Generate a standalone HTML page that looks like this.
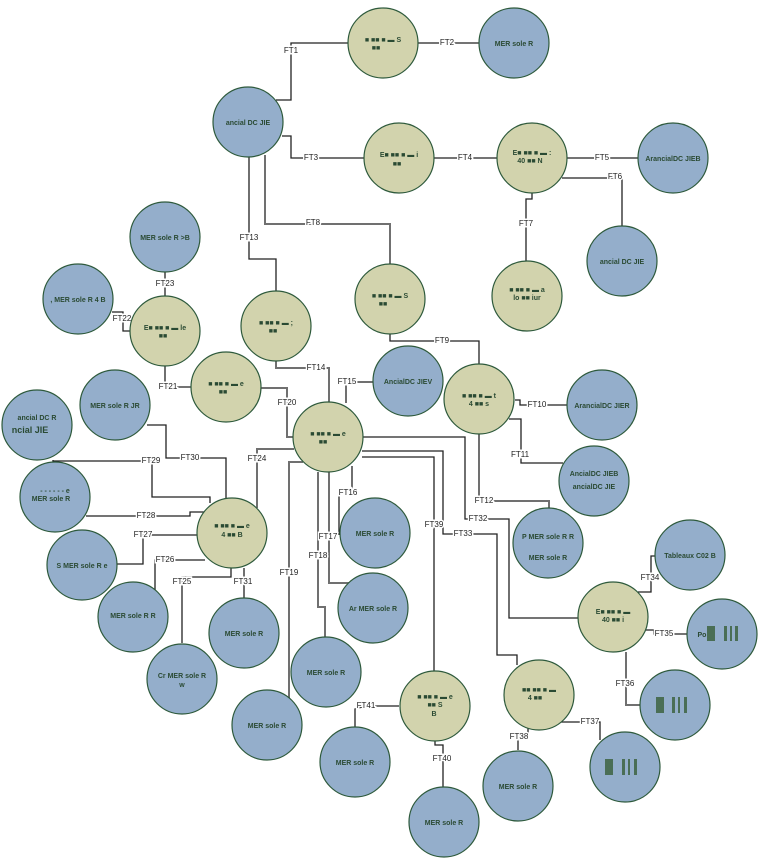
<!DOCTYPE html>
<html><head><meta charset="utf-8"><style>
html,body{margin:0;padding:0;background:#fff;}
svg{display:block;font-family:"Liberation Sans",sans-serif;}
.b{fill:#94aecb;stroke:#2e5a3c;stroke-width:1.2}
.k{fill:#d2d3ad;stroke:#2e5a3c;stroke-width:1.2}
.l{fill:none;stroke:#222;stroke-width:1.3}
.g{fill:none;stroke:#707070;stroke-width:2}
.lb{font-size:8px;fill:#222;text-anchor:middle;dominant-baseline:middle;}
.lbb{fill:#fff;}
.t{font-size:7px;fill:#2a4a33;text-anchor:middle;font-weight:bold;}
</style></head><body>
<svg width="759" height="860" viewBox="0 0 759 860">
<!-- connectors -->
<g>
<polyline class="l" points="276,100 291,100 291,43 348,43"/>
<polyline class="l" points="418,43 479,43"/>
<polyline class="l" points="282,136 291,136 291,158 364,158"/>
<polyline class="l" points="434,158 497,158"/>
<polyline class="l" points="567,158 638,158"/>
<polyline class="l" points="562,178 622,178 622,226"/>
<polyline class="l" points="532,193 532,199 526,199 526,261"/>
<polyline class="g" points="265,155 265,224 390,224 390,264"/>
<polyline class="l" points="249,157 249,259 276,259 276,291"/>
<polyline class="l" points="390,334 390,341 479,341 479,366"/>
<polyline class="l" points="165,272 165,296"/>
<polyline class="l" points="112,312 123,312 123,331 131,331"/>
<polyline class="l" points="165,366 165,387 191,387"/>
<polyline class="g" points="276,361 276,368 329,368 329,402"/>
<polyline class="g" points="346,403 346,382 373,382"/>
<polyline class="g" points="261,388 287,388 287,437 294,437"/>
<polyline class="l" points="515,400 520,400 520,405 567,405"/>
<polyline class="l" points="509,419 521,419 521,463 563,463"/>
<polyline class="g" points="479,434 479,501 549,501 549,509"/>
<polyline class="l" points="53,460 53,461 152,461 152,497 210,497 210,503"/>
<polyline class="l" points="147,425 166,425 166,458 226,458 226,500"/>
<polyline class="g" points="294,449 257,449 257,508"/>
<polyline class="l" points="86,516 190,516 190,512 205,512"/>
<polyline class="l" points="117,564 143,564 143,535 197,535"/>
<polyline class="l" points="155,593 155,560 205,560"/>
<polyline class="l" points="182,643 182,577 231,577 231,568"/>
<polyline class="l" points="244,568 244,598"/>
<polyline class="g" points="303,462 289,462 289,698"/>
<polyline class="g" points="318,472 318,607 325,607 325,637"/>
<polyline class="g" points="329,472 329,583 349,583"/>
<polyline class="l" points="352,466 352,493 339,493 339,535"/>
<polyline class="l" points="362,457 434,457 434,671"/>
<polyline class="l" points="362,451 443,451 443,534 497,534 497,655 517,655 517,665"/>
<polyline class="l" points="363,437 465,437 465,519 509,519 509,618 579,618"/>
<polyline class="l" points="638,592 651,592 651,556 656,556"/>
<polyline class="l" points="645,630 654,630 654,634 687,634"/>
<polyline class="g" points="626,652 626,705 640,705"/>
<polyline class="l" points="561,722 600,722 600,740"/>
<polyline class="l" points="528,726 528,735 518,735 518,750"/>
<polyline class="l" points="399,706 366,706 355,709 355,727"/>
<polyline class="l" points="435,740 435,745 443,745 443,787"/>
</g>
<!-- labels -->
<g>
<text class="lb" x="291" y="51" style="paint-order:stroke;stroke:#fff;stroke-width:3">FT1</text>
<text class="lb" x="447" y="43" style="paint-order:stroke;stroke:#fff;stroke-width:3">FT2</text>
<text class="lb" x="311" y="158" style="paint-order:stroke;stroke:#fff;stroke-width:3">FT3</text>
<text class="lb" x="465" y="158" style="paint-order:stroke;stroke:#fff;stroke-width:3">FT4</text>
<text class="lb" x="602" y="158" style="paint-order:stroke;stroke:#fff;stroke-width:3">FT5</text>
<text class="lb" x="615" y="177" style="paint-order:stroke;stroke:#fff;stroke-width:3">FT6</text>
<text class="lb" x="526" y="224" style="paint-order:stroke;stroke:#fff;stroke-width:3">FT7</text>
<text class="lb" x="313" y="223" style="paint-order:stroke;stroke:#fff;stroke-width:3">FT8</text>
<text class="lb" x="249" y="238" style="paint-order:stroke;stroke:#fff;stroke-width:3">FT13</text>
<text class="lb" x="442" y="341" style="paint-order:stroke;stroke:#fff;stroke-width:3">FT9</text>
<text class="lb" x="165" y="284" style="paint-order:stroke;stroke:#fff;stroke-width:3">FT23</text>
<text class="lb" x="122" y="319" style="paint-order:stroke;stroke:#fff;stroke-width:3">FT22</text>
<text class="lb" x="168" y="387" style="paint-order:stroke;stroke:#fff;stroke-width:3">FT21</text>
<text class="lb" x="316" y="368" style="paint-order:stroke;stroke:#fff;stroke-width:3">FT14</text>
<text class="lb" x="347" y="382" style="paint-order:stroke;stroke:#fff;stroke-width:3">FT15</text>
<text class="lb" x="287" y="403" style="paint-order:stroke;stroke:#fff;stroke-width:3">FT20</text>
<text class="lb" x="537" y="405" style="paint-order:stroke;stroke:#fff;stroke-width:3">FT10</text>
<text class="lb" x="520" y="455" style="paint-order:stroke;stroke:#fff;stroke-width:3">FT11</text>
<text class="lb" x="484" y="501" style="paint-order:stroke;stroke:#fff;stroke-width:3">FT12</text>
<text class="lb" x="151" y="461" style="paint-order:stroke;stroke:#fff;stroke-width:3">FT29</text>
<text class="lb" x="190" y="458" style="paint-order:stroke;stroke:#fff;stroke-width:3">FT30</text>
<text class="lb" x="257" y="459" style="paint-order:stroke;stroke:#fff;stroke-width:3">FT24</text>
<text class="lb" x="146" y="516" style="paint-order:stroke;stroke:#fff;stroke-width:3">FT28</text>
<text class="lb" x="143" y="535" style="paint-order:stroke;stroke:#fff;stroke-width:3">FT27</text>
<text class="lb" x="165" y="560" style="paint-order:stroke;stroke:#fff;stroke-width:3">FT26</text>
<text class="lb" x="182" y="582" style="paint-order:stroke;stroke:#fff;stroke-width:3">FT25</text>
<text class="lb" x="243" y="582" style="paint-order:stroke;stroke:#fff;stroke-width:3">FT31</text>
<text class="lb" x="289" y="573" style="paint-order:stroke;stroke:#fff;stroke-width:3">FT19</text>
<text class="lb" x="318" y="556" style="paint-order:stroke;stroke:#fff;stroke-width:3">FT18</text>
<text class="lb" x="328" y="537" style="paint-order:stroke;stroke:#fff;stroke-width:3">FT17</text>
<text class="lb" x="348" y="493" style="paint-order:stroke;stroke:#fff;stroke-width:3">FT16</text>
<text class="lb" x="434" y="525" style="paint-order:stroke;stroke:#fff;stroke-width:3">FT39</text>
<text class="lb" x="463" y="534" style="paint-order:stroke;stroke:#fff;stroke-width:3">FT33</text>
<text class="lb" x="478" y="519" style="paint-order:stroke;stroke:#fff;stroke-width:3">FT32</text>
<text class="lb" x="650" y="578" style="paint-order:stroke;stroke:#fff;stroke-width:3">FT34</text>
<text class="lb" x="664" y="634" style="paint-order:stroke;stroke:#fff;stroke-width:3">FT35</text>
<text class="lb" x="625" y="684" style="paint-order:stroke;stroke:#fff;stroke-width:3">FT36</text>
<text class="lb" x="590" y="722" style="paint-order:stroke;stroke:#fff;stroke-width:3">FT37</text>
<text class="lb" x="519" y="737" style="paint-order:stroke;stroke:#fff;stroke-width:3">FT38</text>
<text class="lb" x="366" y="706" style="paint-order:stroke;stroke:#fff;stroke-width:3">FT41</text>
<text class="lb" x="442" y="759" style="paint-order:stroke;stroke:#fff;stroke-width:3">FT40</text>
</g>
<!-- khaki nodes -->
<g>
<circle class="k" cx="383" cy="43" r="35"/><text class="t" x="383" y="42">■ ■■ ■ ▬ S</text><text class="t" x="376" y="50">■■</text>
<circle class="k" cx="399" cy="158" r="35"/><text class="t" x="399" y="157">E■ ■■ ■ ▬ i</text><text class="t" x="397" y="166">■■</text>
<circle class="k" cx="532" cy="158" r="35"/><text class="t" x="532" y="155">E■ ■■ ■ ▬ :</text><text class="t" x="530" y="163">40  ■■   N</text>
<circle class="k" cx="527" cy="296" r="35"/><text class="t" x="527" y="292">■ ■■ ■ ▬ a</text><text class="t" x="527" y="300">lo ■■  iur</text>
<circle class="k" cx="390" cy="299" r="35"/><text class="t" x="390" y="298">■ ■■ ■ ▬ S</text><text class="t" x="383" y="306">■■</text>
<circle class="k" cx="165" cy="331" r="35"/><text class="t" x="165" y="330">E■ ■■ ■ ▬ le</text><text class="t" x="163" y="338">■■</text>
<circle class="k" cx="276" cy="326" r="35"/><text class="t" x="276" y="325">■ ■■ ■ ▬ ;</text><text class="t" x="273" y="333">■■</text>
<circle class="k" cx="226" cy="387" r="35"/><text class="t" x="226" y="386">■ ■■ ■ ▬ e</text><text class="t" x="223" y="394">■■</text>
<circle class="k" cx="479" cy="399" r="35"/><text class="t" x="479" y="398">■ ■■ ■ ▬ t</text><text class="t" x="479" y="406">4  ■■  s</text>
<circle class="k" cx="328" cy="437" r="35"/><text class="t" x="328" y="436">■ ■■ ■ ▬ e</text><text class="t" x="323" y="444">■■</text>
<circle class="k" cx="232" cy="533" r="35"/><text class="t" x="232" y="528">■ ■■ ■ ▬ e</text><text class="t" x="232" y="537">4  ■■   B</text>
<circle class="k" cx="613" cy="617" r="35"/><text class="t" x="613" y="614">E■ ■■ ■ ▬</text><text class="t" x="613" y="622">40  ■■  i</text>
<circle class="k" cx="435" cy="706" r="35"/><text class="t" x="435" y="699">■ ■■ ■ ▬ e</text><text class="t" x="435" y="707">■■   S</text><text class="t" x="434" y="716">B</text>
<circle class="k" cx="539" cy="695" r="35"/><text class="t" x="539" y="692">■■ ■■ ■ ▬</text><text class="t" x="535" y="700">4  ■■</text>
</g>
<!-- blue nodes -->
<g>
<circle class="b" cx="248" cy="122" r="35"/><text class="t" x="248" y="125">ancial DC JIE</text>
<circle class="b" cx="514" cy="43" r="35"/><text class="t" x="514" y="46">MER sole R</text>
<circle class="b" cx="673" cy="158" r="35"/><text class="t" x="673" y="161">ArancialDC JIEB</text>
<circle class="b" cx="622" cy="261" r="35"/><text class="t" x="622" y="264">ancial DC JIE</text>
<circle class="b" cx="165" cy="237" r="35"/><text class="t" x="165" y="240">MER sole R  &gt;B</text>
<circle class="b" cx="78" cy="299" r="35"/><text class="t" x="78" y="302">, MER sole R 4 B</text>
<circle class="b" cx="115" cy="405" r="35"/><text class="t" x="115" y="408">MER sole R  JR</text>
<circle class="b" cx="37" cy="425" r="35"/><text class="t" x="37" y="420">ancial DC R</text><text class="t" x="30" y="433" style="font-size:9px">ncial JIE</text>
<circle class="b" cx="55" cy="497" r="35"/><text class="t" x="55" y="493">- - - - - - e</text><text class="t" x="51" y="501">MER sole R</text>
<circle class="b" cx="82" cy="565" r="35"/><text class="t" x="82" y="568">S  MER sole R  e</text>
<circle class="b" cx="408" cy="381" r="35"/><text class="t" x="408" y="384">AncialDC JIEV</text>
<circle class="b" cx="602" cy="405" r="35"/><text class="t" x="602" y="408">ArancialDC JIER</text>
<circle class="b" cx="594" cy="481" r="35"/><text class="t" x="594" y="476">AncialDC JIEB</text><text class="t" x="594" y="489">ancialDC JIE</text>
<circle class="b" cx="548" cy="543" r="35"/><text class="t" x="548" y="539">P  MER sole R  R</text><text class="t" x="548" y="560">MER sole R</text>
<circle class="b" cx="375" cy="533" r="35"/><text class="t" x="375" y="536">MER sole R</text>
<circle class="b" cx="373" cy="608" r="35"/><text class="t" x="373" y="611">Ar    MER sole R</text>
<circle class="b" cx="690" cy="555" r="35"/><text class="t" x="690" y="558">Tableaux C02 B</text>
<circle class="b" cx="722" cy="634" r="35"/><text class="t" x="702" y="637">Po</text><rect x="707" y="626" width="8" height="15" fill="#4a6e55"/><rect x="724" y="626" width="3" height="15" fill="#4a6e55"/><rect x="730" y="626" width="2" height="15" fill="#4a6e55"/><rect x="735" y="626" width="3" height="15" fill="#4a6e55"/>
<circle class="b" cx="675" cy="705" r="35"/><rect x="656" y="697" width="8" height="16" fill="#4a6e55"/><rect x="672" y="697" width="3" height="16" fill="#4a6e55"/><rect x="678" y="697" width="2" height="16" fill="#4a6e55"/><rect x="684" y="697" width="3" height="16" fill="#4a6e55"/>
<circle class="b" cx="625" cy="767" r="35"/><rect x="605" y="759" width="8" height="16" fill="#4a6e55"/><rect x="622" y="759" width="3" height="16" fill="#4a6e55"/><rect x="628" y="759" width="2" height="16" fill="#4a6e55"/><rect x="634" y="759" width="3" height="16" fill="#4a6e55"/>
<circle class="b" cx="133" cy="617" r="35"/><text class="t" x="133" y="618">MER sole R  R</text>
<circle class="b" cx="244" cy="633" r="35"/><text class="t" x="244" y="636">MER sole R</text>
<circle class="b" cx="182" cy="679" r="35"/><text class="t" x="182" y="678">Cr  MER sole R</text><text class="t" x="182" y="687">w</text>
<circle class="b" cx="326" cy="672" r="35"/><text class="t" x="326" y="675">MER sole R</text>
<circle class="b" cx="267" cy="725" r="35"/><text class="t" x="267" y="728">MER sole R</text>
<circle class="b" cx="355" cy="762" r="35"/><text class="t" x="355" y="765">MER sole R</text>
<circle class="b" cx="518" cy="786" r="35"/><text class="t" x="518" y="789">MER sole R</text>
<circle class="b" cx="444" cy="822" r="35"/><text class="t" x="444" y="825">MER sole R</text>
</g>
</svg>
</body></html>
